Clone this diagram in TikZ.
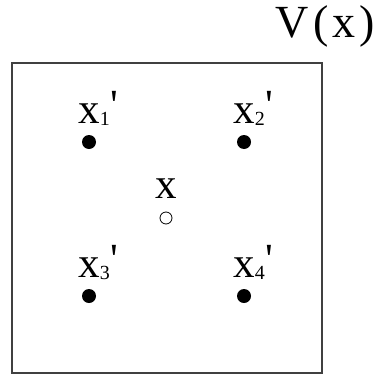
\documentclass[tikz,border=0pt]{standalone}
\usepackage{fontspec}
\setmainfont{Liberation Serif}
\usetikzlibrary{positioning}
% label x with subscript and prime hanging to the right of the letter
\newcommand{\xprime}[1]{x\rlap{\raisebox{-2pt}{\fontsize{20}{20}\selectfont #1}\kern1pt\raisebox{4pt}{\textquotesingle}}}

\begin{document}
\begin{tikzpicture}[x=1pt,y=1pt]
  \tikzstyle{frame}=[draw=black!75,line width=1.3pt]
  \tikzstyle{sample}=[circle,fill=black,inner sep=0pt,minimum size=14pt]
  \tikzstyle{centre}=[circle,draw=black,line width=0.8pt,fill=white,inner sep=0pt,minimum size=12pt]
  \tikzstyle{lab}=[inner sep=0pt,font=\fontsize{43}{43}\selectfont]

  \useasboundingbox (0,0) rectangle (379,376);
  \draw[frame] (12,3) rectangle (322,313);

  \node[sample] (p1) at (89,234) {};
  \node[sample] (p2) at (244,234) {};
  \node[sample] (p3) at (89,80) {};
  \node[sample] (p4) at (244,80) {};
  \node[centre] (c) at (166,158) {};

  \node[lab,above=19pt of p1.center,anchor=base] (l1) {\xprime{1}};
  \node[lab,above=19pt of p2.center,anchor=base] (l2) {\xprime{2}};
  \node[lab,above=19pt of p3.center,anchor=base] (l3) {\xprime{3}};
  \node[lab,above=19pt of p4.center,anchor=base] (l4) {\xprime{4}};
  \node[lab,above=20pt of c.center,anchor=base] (lc) {x};

  \node[lab,anchor=base,font=\fontsize{46}{46}\selectfont] (v) at (325,339) {V\hspace{5pt}(\hspace{4pt}x\hspace{4pt})};
\end{tikzpicture}
\end{document}
